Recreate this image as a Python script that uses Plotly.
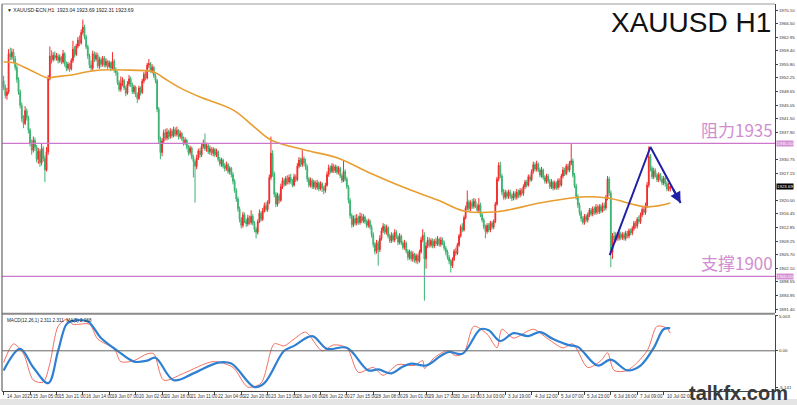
import plotly.graph_objects as go

# ---------------- DATA ----------------
opens = [
1951.5,1949.8,1947.6,1948.5,1958.6,1957.8,1959.0,1957.2,1955.0,1951.8,
1948.6,1945.0,1941.5,1940.2,1943.6,1941.8,1938.5,1935.0,1933.2,1935.8,
1934.0,1930.8,1932.9,1929.9,1933.6,1931.0,1928.0,1932.8,1952.0,1958.0,
1957.0,1958.2,1957.5,1958.0,1956.8,1957.6,1956.4,1958.6,1956.0,1954.8,
1955.8,1954.6,1956.8,1959.8,1958.4,1960.6,1962.2,1961.4,1964.2,1965.6,
1963.0,1960.4,1958.0,1955.6,1954.8,1958.6,1957.2,1958.2,1955.4,1957.0,
1955.8,1957.4,1955.6,1956.6,1955.2,1956.2,1954.8,1956.6,1954.2,1953.6,
1951.0,1949.2,1950.8,1951.6,1949.6,1948.2,1950.6,1952.0,1950.4,1948.6,
1949.8,1947.8,1946.8,1949.6,1948.4,1951.4,1953.2,1952.2,1955.6,1956.0,
1954.2,1955.0,1952.8,1951.6,1944.0,1936.0,1932.6,1935.6,1937.8,1936.4,
1938.0,1936.8,1938.2,1937.0,1938.6,1937.4,1938.4,1936.8,1937.6,1936.2,
1935.2,1935.8,1934.0,1932.6,1933.8,1931.4,1930.2,1929.0,1931.2,1933.0,
1932.0,1934.2,1935.0,1933.6,1934.4,1932.8,1933.6,1932.4,1933.4,1932.0,
1932.8,1930.8,1929.6,1930.6,1929.0,1928.4,1929.4,1927.6,1928.4,1926.8,
1925.0,1922.6,1920.4,1917.8,1915.0,1913.4,1916.2,1914.6,1913.8,1915.4,
1914.2,1915.8,1914.0,1912.4,1911.6,1914.4,1916.6,1915.0,1917.2,1918.6,
1917.6,1919.4,1926.0,1932.4,1927.0,1921.6,1919.0,1921.2,1920.0,1923.6,
1925.2,1924.2,1925.8,1924.8,1926.0,1925.0,1924.0,1926.2,1925.4,1929.0,
1930.6,1929.4,1931.0,1929.8,1928.8,1925.6,1924.0,1925.2,1923.6,1924.8,
1923.4,1924.6,1923.0,1924.4,1923.2,1922.6,1924.0,1926.8,1928.6,1927.6,
1929.0,1927.8,1928.8,1927.4,1928.4,1926.4,1925.2,1927.6,1925.6,1923.6,
1920.0,1916.0,1913.6,1915.2,1914.0,1915.4,1914.2,1915.8,1914.6,1915.6,
1914.4,1913.4,1914.6,1913.0,1911.0,1908.4,1906.6,1908.8,1907.0,1910.0,
1912.0,1913.2,1911.6,1912.8,1910.6,1909.4,1910.8,1909.6,1911.6,1910.4,
1909.0,1910.6,1908.8,1907.6,1908.8,1906.6,1905.0,1906.4,1904.6,1905.8,
1904.2,1905.4,1904.0,1906.4,1909.6,1910.8,1904.6,1908.0,1909.6,1908.2,
1909.4,1908.0,1909.2,1908.6,1909.8,1908.4,1909.6,1908.8,1907.4,1906.4,
1905.0,1904.0,1902.8,1904.4,1906.6,1906.0,1908.2,1910.6,1913.0,1912.2,
1915.4,1918.0,1919.6,1917.8,1919.4,1918.4,1919.8,1918.6,1917.4,1918.8,
1916.2,1914.8,1913.0,1911.8,1913.4,1912.2,1914.0,1913.0,1914.4,1919.0,
1925.6,1929.2,1926.4,1922.2,1920.8,1922.0,1921.0,1922.2,1921.2,1920.6,
1921.8,1920.8,1922.2,1921.4,1922.6,1921.8,1923.6,1924.8,1924.0,1926.2,
1925.4,1927.6,1929.4,1928.2,1929.6,1928.0,1926.6,1928.0,1926.0,1925.0,
1926.4,1925.0,1923.6,1924.8,1923.2,1924.6,1923.4,1925.2,1924.0,1926.4,
1928.0,1927.0,1929.0,1928.0,1929.8,1930.4,1926.6,1923.8,1921.0,1918.8,
1916.8,1915.2,1914.2,1915.8,1914.8,1916.2,1917.4,1916.4,1917.8,1916.8,
1918.2,1917.0,1918.4,1917.2,1918.6,1918.0,1920.6,1925.6,1922.0,1906.4,
1910.6,1909.6,1910.8,1910.0,1911.2,1910.2,1911.0,1910.0,1911.4,1910.6,
1912.0,1911.4,1912.6,1914.0,1913.2,1915.0,1914.4,1916.2,1917.6,1916.8,
1918.6,1924.0,1931.6,1928.4,1926.2,1927.8,1926.6,1925.4,1926.8,1925.6,
1924.6,1925.8,1924.4,1923.0,1923.04]

closes = [
1949.8,1947.6,1948.5,1958.6,1957.8,1959.0,1957.2,1955.0,1951.8,1948.6,
1945.0,1941.5,1940.2,1943.6,1941.8,1938.5,1935.0,1933.2,1935.8,1934.0,
1930.8,1932.9,1929.9,1933.6,1931.0,1928.0,1932.8,1952.0,1958.0,1957.0,
1958.2,1957.5,1958.0,1956.8,1957.6,1956.4,1958.6,1956.0,1954.8,1955.8,
1954.6,1956.8,1959.8,1958.4,1960.6,1962.2,1961.4,1964.2,1965.6,1963.0,
1960.4,1958.0,1955.6,1954.8,1958.6,1957.2,1958.2,1955.4,1957.0,1955.8,
1957.4,1955.6,1956.6,1955.2,1956.2,1954.8,1956.6,1954.2,1953.6,1951.0,
1949.2,1950.8,1951.6,1949.6,1948.2,1950.6,1952.0,1950.4,1948.6,1949.8,
1947.8,1946.8,1949.6,1948.4,1951.4,1953.2,1952.2,1955.6,1956.0,1954.2,
1955.0,1952.8,1951.6,1944.0,1936.0,1932.6,1935.6,1937.8,1936.4,1938.0,
1936.8,1938.2,1937.0,1938.6,1937.4,1938.4,1936.8,1937.6,1936.2,1935.2,
1935.8,1934.0,1932.6,1933.8,1931.4,1930.2,1929.0,1931.2,1933.0,1932.0,
1934.2,1935.0,1933.6,1934.4,1932.8,1933.6,1932.4,1933.4,1932.0,1932.8,
1930.8,1929.6,1930.6,1929.0,1928.4,1929.4,1927.6,1928.4,1926.8,1925.0,
1922.6,1920.4,1917.8,1915.0,1913.4,1916.2,1914.6,1913.8,1915.4,1914.2,
1915.8,1914.0,1912.4,1911.6,1914.4,1916.6,1915.0,1917.2,1918.6,1917.6,
1919.4,1926.0,1932.4,1927.0,1921.6,1919.0,1921.2,1920.0,1923.6,1925.2,
1924.2,1925.8,1924.8,1926.0,1925.0,1924.0,1926.2,1925.4,1929.0,1930.6,
1929.4,1931.0,1929.8,1928.8,1925.6,1924.0,1925.2,1923.6,1924.8,1923.4,
1924.6,1923.0,1924.4,1923.2,1922.6,1924.0,1926.8,1928.6,1927.6,1929.0,
1927.8,1928.8,1927.4,1928.4,1926.4,1925.2,1927.6,1925.6,1923.6,1920.0,
1916.0,1913.6,1915.2,1914.0,1915.4,1914.2,1915.8,1914.6,1915.6,1914.4,
1913.4,1914.6,1913.0,1911.0,1908.4,1906.6,1908.8,1907.0,1910.0,1912.0,
1913.2,1911.6,1912.8,1910.6,1909.4,1910.8,1909.6,1911.6,1910.4,1909.0,
1910.6,1908.8,1907.6,1908.8,1906.6,1905.0,1906.4,1904.6,1905.8,1904.2,
1905.4,1904.0,1906.4,1909.6,1910.8,1904.6,1908.0,1909.6,1908.2,1909.4,
1908.0,1909.2,1908.6,1909.8,1908.4,1909.6,1908.8,1907.4,1906.4,1905.0,
1904.0,1902.8,1904.4,1906.6,1906.0,1908.2,1910.6,1913.0,1912.2,1915.4,
1918.0,1919.6,1917.8,1919.4,1918.4,1919.8,1918.6,1917.4,1918.8,1916.2,
1914.8,1913.0,1911.8,1913.4,1912.2,1914.0,1913.0,1914.4,1919.0,1925.6,
1929.2,1926.4,1922.2,1920.8,1922.0,1921.0,1922.2,1921.2,1920.6,1921.8,
1920.8,1922.2,1921.4,1922.6,1921.8,1923.6,1924.8,1924.0,1926.2,1925.4,
1927.6,1929.4,1928.2,1929.6,1928.0,1926.6,1928.0,1926.0,1925.0,1926.4,
1925.0,1923.6,1924.8,1923.2,1924.6,1923.4,1925.2,1924.0,1926.4,1928.0,
1927.0,1929.0,1928.0,1929.8,1930.4,1926.6,1923.8,1921.0,1918.8,1916.8,
1915.2,1914.2,1915.8,1914.8,1916.2,1917.4,1916.4,1917.8,1916.8,1918.2,
1917.0,1918.4,1917.2,1918.6,1918.0,1920.6,1925.6,1922.0,1906.4,1910.6,
1909.6,1910.8,1910.0,1911.2,1910.2,1911.0,1910.0,1911.4,1910.6,1912.0,
1911.4,1912.6,1914.0,1913.2,1915.0,1914.4,1916.2,1917.6,1916.8,1918.6,
1924.0,1931.6,1928.4,1926.2,1927.8,1926.6,1925.4,1926.8,1925.6,1924.6,
1925.8,1924.4,1923.0,1923.04,1923.69]

highs = [
1952.8,1950.5,1949.6,1959.8,1960.2,1960.0,1959.8,1958.0,1955.6,1952.4,
1949.2,1945.8,1942.4,1944.8,1944.2,1942.3,1939.0,1936.0,1936.8,1936.5,
1934.6,1933.8,1933.5,1935.0,1934.2,1931.8,1934.0,1953.0,1960.5,1959.5,
1959.0,1959.2,1958.8,1958.6,1958.4,1958.0,1959.6,1959.0,1956.6,1956.4,
1956.2,1957.4,1962.0,1960.6,1961.2,1963.0,1963.4,1965.0,1967.6,1966.2,
1963.6,1961.0,1958.6,1956.8,1959.4,1959.2,1959.0,1958.8,1957.8,1957.6,
1958.0,1958.0,1957.4,1957.0,1956.8,1956.6,1959.0,1957.2,1955.0,1954.0,
1951.6,1952.6,1952.4,1952.0,1950.2,1951.4,1953.0,1952.6,1951.0,1950.4,
1950.2,1948.4,1950.2,1950.0,1952.0,1953.8,1954.0,1956.2,1957.2,1956.4,
1955.8,1955.4,1953.4,1952.0,1944.6,1936.8,1936.4,1938.6,1938.8,1939.0,
1938.6,1939.0,1938.8,1939.4,1939.2,1939.4,1938.8,1938.4,1938.0,1936.8,
1936.6,1936.2,1934.6,1934.4,1934.2,1932.0,1930.8,1932.0,1933.6,1933.8,
1935.0,1936.0,1937.6,1935.2,1935.0,1934.4,1934.0,1934.0,1933.8,1933.6,
1933.2,1931.4,1931.2,1931.0,1929.8,1930.2,1929.8,1929.0,1928.8,1927.4,
1925.6,1923.2,1921.0,1918.4,1915.6,1917.0,1916.8,1915.2,1916.2,1916.0,
1917.4,1916.4,1914.6,1913.0,1915.0,1917.6,1917.2,1918.0,1919.4,1919.6,
1920.0,1926.8,1936.8,1933.2,1927.6,1922.2,1922.0,1921.8,1924.4,1926.0,
1925.8,1926.4,1926.6,1926.8,1927.0,1925.6,1927.0,1926.8,1929.8,1931.4,
1931.2,1933.2,1931.6,1931.0,1929.4,1926.2,1926.0,1925.8,1925.4,1925.2,
1925.4,1925.0,1925.0,1924.8,1923.8,1924.6,1927.6,1929.4,1929.2,1929.8,
1929.6,1929.4,1929.2,1929.0,1928.8,1927.0,1930.6,1928.2,1926.2,1924.0,
1920.6,1916.6,1916.0,1916.2,1916.4,1916.0,1916.8,1916.6,1916.4,1916.0,
1915.0,1915.2,1915.0,1913.6,1911.6,1909.0,1909.6,1909.4,1910.8,1912.8,
1914.0,1913.8,1913.6,1913.2,1911.2,1911.6,1911.4,1912.4,1912.2,1911.0,
1911.4,1911.0,1909.4,1909.6,1909.2,1907.2,1907.0,1906.8,1906.6,1906.2,
1906.0,1905.8,1907.0,1910.4,1912.4,1911.6,1909.0,1910.4,1910.2,1910.0,
1910.0,1909.8,1910.2,1910.6,1910.2,1910.4,1910.2,1909.4,1908.0,1907.0,
1905.6,1904.6,1905.0,1907.2,1907.6,1908.8,1911.2,1913.6,1914.0,1916.0,
1918.6,1922.6,1920.2,1920.0,1920.4,1920.6,1920.4,1919.2,1920.6,1919.4,
1916.8,1915.4,1913.6,1914.0,1914.0,1914.6,1914.6,1915.0,1919.6,1926.2,
1930.0,1930.2,1927.0,1923.0,1922.8,1922.6,1922.8,1922.8,1921.8,1922.4,
1922.4,1923.0,1922.8,1923.2,1923.2,1924.2,1925.4,1925.4,1926.8,1926.8,
1928.2,1930.2,1930.0,1930.4,1930.0,1928.6,1928.8,1928.4,1926.6,1927.0,
1927.0,1925.6,1925.6,1925.2,1925.2,1925.0,1925.8,1925.8,1927.0,1928.8,
1928.6,1929.6,1929.6,1930.4,1934.8,1931.0,1927.2,1924.4,1921.6,1919.4,
1917.4,1915.8,1916.4,1916.4,1916.8,1918.0,1918.0,1918.4,1918.4,1919.0,
1918.8,1919.0,1919.0,1919.4,1919.4,1921.4,1926.4,1926.2,1922.6,1911.4,
1911.8,1911.6,1911.6,1911.8,1911.8,1911.6,1911.6,1912.0,1912.0,1912.6,
1912.6,1913.2,1914.6,1914.6,1915.6,1916.0,1916.8,1918.2,1918.4,1919.4,
1924.8,1934.2,1932.2,1929.0,1928.6,1928.4,1927.2,1927.4,1927.2,1926.4,
1926.4,1926.2,1925.0,1924.6,1923.69]

lows = [
1949.0,1946.8,1946.5,1948.0,1956.9,1957.0,1956.2,1954.2,1951.0,1947.8,
1944.2,1940.6,1939.0,1939.8,1941.0,1937.6,1934.2,1932.0,1932.6,1933.0,
1930.0,1929.6,1928.8,1929.2,1930.2,1924.8,1927.6,1932.0,1951.6,1956.0,
1956.5,1956.8,1956.8,1956.0,1956.2,1955.8,1956.0,1955.2,1954.0,1954.2,
1953.8,1954.2,1956.2,1957.6,1958.0,1960.0,1960.6,1961.0,1963.6,1962.4,
1959.8,1957.2,1954.8,1954.0,1954.2,1956.4,1956.6,1954.8,1954.6,1955.0,
1955.2,1955.0,1955.0,1954.6,1954.8,1954.0,1954.4,1953.6,1952.8,1950.4,
1948.6,1948.6,1950.0,1949.0,1947.4,1947.8,1950.0,1949.8,1948.0,1948.0,
1947.2,1945.6,1946.4,1947.6,1948.0,1950.8,1951.6,1951.8,1954.8,1953.6,
1953.4,1952.2,1950.8,1943.2,1935.0,1930.8,1931.6,1935.0,1935.8,1935.8,
1936.0,1936.2,1936.4,1936.6,1936.8,1936.8,1936.0,1936.2,1935.6,1934.4,
1934.6,1933.4,1931.8,1932.0,1930.8,1926.0,1919.4,1928.2,1930.6,1931.2,
1931.4,1933.6,1933.0,1932.8,1932.2,1932.0,1931.8,1931.6,1931.4,1931.4,
1930.2,1929.0,1928.8,1928.4,1927.6,1927.8,1927.0,1926.8,1926.0,1924.2,
1922.0,1919.6,1917.0,1914.2,1912.6,1912.8,1914.0,1913.0,1913.2,1913.6,
1913.6,1913.4,1911.6,1910.0,1911.0,1914.0,1914.4,1914.6,1916.8,1917.0,
1917.0,1919.0,1925.4,1926.2,1920.8,1918.2,1918.4,1919.2,1919.6,1923.0,
1923.6,1923.8,1924.2,1924.2,1924.4,1923.4,1923.6,1924.8,1925.0,1928.4,
1928.8,1928.8,1929.0,1928.0,1924.8,1923.4,1923.4,1923.0,1923.0,1922.8,
1922.8,1922.4,1922.6,1922.2,1921.6,1922.0,1923.6,1926.2,1927.0,1927.2,
1927.2,1927.2,1926.8,1926.8,1925.8,1924.6,1924.8,1925.0,1923.0,1919.2,
1915.2,1912.8,1913.0,1913.4,1913.4,1913.6,1913.6,1914.0,1914.0,1913.8,
1912.8,1912.8,1912.4,1910.2,1907.6,1905.8,1906.0,1902.8,1906.4,1909.4,
1911.4,1911.0,1911.0,1910.0,1908.8,1908.8,1909.0,1909.0,1909.8,1908.2,
1908.4,1908.2,1907.0,1907.0,1906.0,1904.2,1904.4,1904.0,1903.8,1903.6,
1903.4,1903.2,1903.6,1906.0,1909.0,1893.6,1902.0,1907.4,1907.6,1907.6,
1907.4,1907.4,1908.0,1908.0,1907.8,1907.8,1908.2,1906.8,1905.6,1904.4,
1903.2,1901.0,1902.2,1904.0,1905.4,1905.6,1907.8,1910.2,1911.6,1911.8,
1915.0,1917.4,1917.2,1917.2,1917.8,1917.8,1918.0,1916.8,1916.8,1915.6,
1914.2,1912.4,1910.0,1911.2,1911.6,1911.6,1912.4,1912.4,1914.0,1918.6,
1925.0,1925.8,1921.4,1920.2,1920.2,1920.4,1920.4,1920.4,1919.8,1920.0,
1920.2,1920.2,1920.6,1920.8,1921.2,1921.2,1923.0,1923.4,1923.6,1924.8,
1925.0,1927.0,1927.6,1927.6,1927.4,1926.0,1926.0,1925.4,1924.4,1924.4,
1924.4,1923.0,1923.0,1922.6,1922.8,1922.8,1922.8,1923.4,1923.6,1925.8,
1926.4,1926.6,1927.4,1927.4,1929.2,1926.0,1923.2,1920.2,1918.0,1916.0,
1914.4,1913.6,1913.6,1914.2,1914.2,1915.6,1915.8,1915.8,1916.2,1916.2,
1916.4,1916.4,1916.6,1916.8,1917.2,1917.4,1920.0,1921.2,1902.4,1904.6,
1909.0,1909.0,1909.4,1909.4,1909.6,1909.6,1909.4,1909.4,1910.0,1910.0,
1910.8,1910.8,1912.0,1912.6,1912.6,1913.8,1913.8,1915.6,1916.2,1916.2,
1918.0,1923.4,1927.6,1925.6,1925.6,1926.0,1924.8,1924.8,1925.0,1924.0,
1924.0,1923.6,1922.4,1922.4,1922.31]

# moving average (read at sampled bars)
ma_bars = [0,6,16,27,31,41,50,59,72,91,97,107,119,139,152,162,182,202,222,242,263,279,299,325,350,366,390,404]
ma_vals = [1956.4,1956.2,1954.3,1952.2,1952.5,1953.0,1953.8,1954.3,1954.3,1953.8,
           1952.2,1949.6,1947.2,1943.8,1939.3,1935.9,1933.3,1931.2,1927.2,1923.5,
           1920.1,1917.2,1917.0,1919.3,1920.9,1920.6,1918.3,1919.3]

# oscillator panel: signal (blue) and main (red)
sig_bars = [0,10,18,27,33,38,41,51,59,69,79,87,92,103,115,130,138,152,158,170,
            176,187,196,208,221,227,235,241,247,256,265,270,278,289,294,301,309,318,325,333,
            342,348,360,368,378,386,394,400,404]
sig_vals = [-2.70,0.27,-2.30,-4.46,0.0,3.65,4.05,4.05,1.76,0.0,
            -1.49,-1.35,-0.95,-4.05,-3.11,-1.62,-1.76,-5.0,-4.46,0.0,
            0.68,2.03,0.27,0.41,-2.70,-2.57,-3.11,-2.30,-1.76,-2.03,
            -0.68,-0.14,-0.41,2.97,2.84,1.35,2.43,2.03,2.57,1.62,
            0.81,0.54,-2.03,-1.22,-2.70,-2.03,0.41,2.97,3.11]
main_bars = [0,6,12,18,24,28,33,38,42,52,57,67,71,79,87,91,97,109,127,139,
             148,156,164,170,176,183,193,200,208,215,224,230,239,249,254,255,261,269,274,279,
             285,293,299,302,309,321,330,339,345,354,362,366,370,378,390,396,402,404]
main_vals = [-1.62,0.95,-0.41,-4.05,-4.32,-1.76,3.38,4.32,3.65,3.65,
             1.62,0.27,-1.49,-1.35,-0.41,-0.41,-4.05,-3.11,-1.49,-2.30,
             -5.0,-4.46,0.95,0.68,1.62,2.57,0.0,0.81,0.41,-2.97,
             -2.30,-3.38,-1.89,-2.03,-1.35,-2.43,-0.95,0.0,-0.68,-0.27,
             3.38,2.30,0.41,2.97,1.76,2.97,1.62,0.41,0.95,-2.30,
             -1.35,-0.27,-2.70,-2.70,0.0,3.38,3.11,2.43]

# levels and drawn arrow
levels = [1935.0, 1900.0]
level_labels = ["阻力1935", "支撑1900"]
level_tags = ["1935.00", "1900.00"]
arrow_bars = [367.3, 392.0, 410.3]
arrow_prices = [1905.6, 1934.05, 1919.3]

price_ticks = [1970.10,1966.50,1962.95,1959.40,1955.80,1952.25,1948.65,1945.05,1941.50,1937.90,
               1930.75,1927.15,1920.00,1916.45,1912.85,1909.25,1905.70,1902.10,1898.55,1894.95,1891.40]
date_labels = ["14 Jun 2023","15 Jun 05:00","15 Jun 21:00","16 Jun 14:00","19 Jun 07:00","20 Jun 02:00",
               "20 Jun 18:00","21 Jun 11:00","22 Jun 04:00","22 Jun 20:00","23 Jun 13:00","26 Jun 06:00",
               "26 Jun 22:00","27 Jun 15:00","28 Jun 08:00","29 Jun 01:00","29 Jun 17:00","30 Jun 10:00",
               "3 Jul 03:00","3 Jul 19:00","4 Jul 12:00","5 Jul 07:00","5 Jul 23:00","6 Jul 16:00",
               "7 Jul 09:00","10 Jul 02:00"]
date_bars = [16 * i for i in range(len(date_labels))]

# ---------------- FIGURE ----------------
bars = list(range(len(closes)))
UP = "#f42a2a"
DN = "#3cb371"
LVL = "#cc77cc"
XR = [-1, 467.5]
SPLIT = 0.2016

fig = go.Figure()
fig.add_trace(go.Candlestick(
    x=bars, open=opens, high=highs, low=lows, close=closes,
    increasing=dict(line=dict(color=UP, width=1), fillcolor=UP),
    decreasing=dict(line=dict(color=DN, width=1), fillcolor=DN),
    whiskerwidth=0, xaxis="x", yaxis="y", showlegend=False, hoverinfo="skip"))
fig.add_trace(go.Scatter(x=ma_bars, y=ma_vals, mode="lines",
    line=dict(color="#e89d2e", width=1.6, shape="spline", smoothing=1.0),
    xaxis="x", yaxis="y", showlegend=False, hoverinfo="skip"))
fig.add_trace(go.Scatter(x=arrow_bars, y=arrow_prices, mode="lines",
    line=dict(color="#2121a6", width=2), xaxis="x", yaxis="y", showlegend=False, hoverinfo="skip"))

fig.add_trace(go.Scatter(x=main_bars, y=main_vals, mode="lines",
    line=dict(color="#f0604f", width=0.9, shape="spline", smoothing=0.8),
    xaxis="x2", yaxis="y2", showlegend=False, hoverinfo="skip"))
fig.add_trace(go.Scatter(x=sig_bars, y=sig_vals, mode="lines",
    line=dict(color="#2f80d2", width=2.2, shape="spline", smoothing=1.0),
    xaxis="x2", yaxis="y2", showlegend=False, hoverinfo="skip"))

axis_font = dict(family="Liberation Sans, Arial", size=4.4, color="#333")

fig.update_layout(
    width=797, height=405,
    margin=dict(l=2, r=22, t=4, b=14),
    paper_bgcolor="white", plot_bgcolor="white",
    xaxis=dict(domain=[0, 1], anchor="y", range=XR, showticklabels=False, ticks="",
               showgrid=False, zeroline=False, rangeslider=dict(visible=False), fixedrange=True),
    yaxis=dict(domain=[SPLIT, 1], anchor="x", side="right", range=[1890.36, 1971.68],
               tickvals=price_ticks, ticktext=["%.2f" % v for v in price_ticks],
               ticks="outside", ticklen=2, tickcolor="#444", tickfont=axis_font,
               showgrid=False, zeroline=False, showline=True, linecolor="#444", linewidth=1),
    xaxis2=dict(domain=[0, 1], anchor="y2", range=XR, tickvals=date_bars, ticks="outside",
                ticklen=3, tickcolor="#444", showticklabels=False, showgrid=False, zeroline=False,
                showline=True, linecolor="#444", linewidth=1),
    yaxis2=dict(domain=[0, SPLIT - 0.004], anchor="x2", side="right", range=[-5.54, 5.0],
                tickvals=[4.8, 0, -5.1], ticktext=["5.003", "0.00", "-5.141"],
                ticks="outside", ticklen=2, tickcolor="#444", tickfont=axis_font,
                showgrid=False, zeroline=False, showline=True, linecolor="#444", linewidth=1),
)

shapes = []
for lv in levels:
    shapes.append(dict(type="line", xref="paper", x0=0, x1=1, yref="y", y0=lv, y1=lv,
                       line=dict(color=LVL, width=1.4)))
shapes.append(dict(type="line", xref="paper", x0=0, x1=1, yref="y2", y0=0, y1=0,
                   line=dict(color="#666", width=1)))
# panel frame and separator
shapes.append(dict(type="line", xref="paper", yref="paper", x0=0, x1=1.0, y0=SPLIT - 0.002, y1=SPLIT - 0.002,
                   line=dict(color="#8a8a8a", width=2.2)))
shapes.append(dict(type="line", xref="paper", yref="paper", x0=0, x1=1.0, y0=1, y1=1,
                   line=dict(color="#9a9a9a", width=1)))
shapes.append(dict(type="line", xref="paper", yref="paper", x0=0, x1=0, y0=0, y1=1,
                   line=dict(color="#666", width=1.2)))
shapes.append(dict(type="rect", xref="paper", yref="paper", x0=-0.01, x1=1.04, y0=-0.0207, y1=-0.04,
                   fillcolor="#e4e4e4", line=dict(width=0), layer="below"))
fig.update_layout(shapes=shapes)

ann = []
ann.append(dict(xref="paper", yref="paper", x=0.004, y=0.998, xanchor="left", yanchor="top",
                text="▼ XAUUSD-ECN,H1  1923.04 1923.69 1922.31 1923.69", showarrow=False,
                font=dict(family="Liberation Sans, Arial", size=5, color="#222")))
ann.append(dict(xref="paper", yref="paper", x=0.004, y=SPLIT - 0.008, xanchor="left", yanchor="top",
                text="MACD(12,26,1) 2.311 2.311  MA(5) 2.068", showarrow=False,
                font=dict(family="Liberation Sans, Arial", size=4.6, color="#222")))
ann.append(dict(xref="paper", yref="paper", x=0.997, y=0.997, xanchor="right", yanchor="top",
                text="XAUUSD H1", showarrow=False,
                font=dict(family="Liberation Sans, Arial", size=28, color="#111")))
for lv, lab, tag in zip(levels, level_labels, level_tags):
    ann.append(dict(xref="paper", yref="y", x=1.0, y=lv, xanchor="right", yanchor="bottom",
                    text=lab, showarrow=False, yshift=-1,
                    font=dict(family="Noto Sans CJK SC", size=17, color="#d08ed0")))
    ann.append(dict(xref="paper", yref="y", x=1.001, y=lv, xanchor="left", yanchor="middle",
                    text=tag, showarrow=False, bgcolor="#d58fd5", borderpad=0,
                    font=dict(family="Liberation Sans, Arial", size=4.4, color="white")))
ann.append(dict(xref="paper", yref="y", x=1.001, y=closes[-1], xanchor="left", yanchor="middle",
                text="%.2f" % closes[-1], showarrow=False, bgcolor="#000", borderpad=0,
                font=dict(family="Liberation Sans, Arial", size=4.4, color="white")))
ann.append(dict(xref="x", yref="y", x=arrow_bars[-1], y=arrow_prices[-1],
                axref="x", ayref="y", ax=arrow_bars[-1] - 5, ay=arrow_prices[-1] + 5 * (arrow_prices[1] - arrow_prices[2]) / (arrow_bars[2] - arrow_bars[1]),
                text="", showarrow=True, arrowhead=2, arrowsize=1.1, arrowwidth=2, arrowcolor="#2121a6"))
for b, lab in zip(date_bars, date_labels):
    ann.append(dict(xref="x2", yref="paper", x=b, y=0, xanchor="left", yanchor="top",
                    text=lab, showarrow=False, yshift=-1, xshift=1,
                    font=dict(family="Liberation Sans, Arial", size=4.6, color="#333")))
ann.append(dict(xref="paper", yref="paper", x=1.0194, y=-0.005, xanchor="right", yanchor="middle",
                text="<b>talkfx.com</b>", showarrow=False,
                font=dict(family="Liberation Sans, Arial", size=20, color="#3a3a3a")))
fig.update_layout(annotations=ann)

fig.write_html("out.html", config={"displayModeBar": False},
               post_script="document.body.style.margin='0';document.body.style.padding='0';document.body.style.overflow='hidden';")
